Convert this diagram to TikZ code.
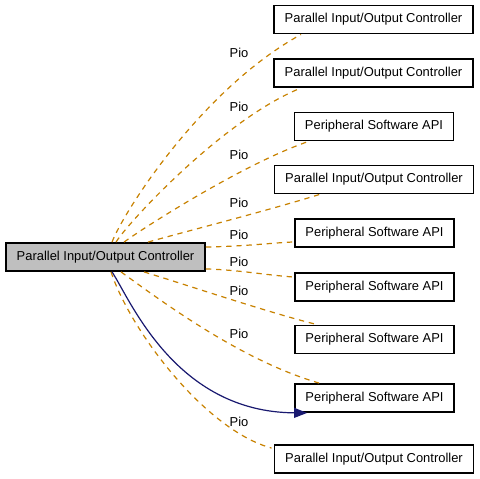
\documentclass[tikz,border=0pt]{standalone}
\usepackage{fontspec}
\setmainfont{Liberation Sans}
\usetikzlibrary{calc,arrows.meta}
\definecolor{pioorange}{RGB}{200,130,0}
\definecolor{navyedge}{RGB}{25,25,112}
\definecolor{mygray}{RGB}{191,191,191}
\begin{document}
\begin{tikzpicture}[x=0.75pt,y=-0.75pt,
  box/.style={draw=black,line width=1.4pt,fill=white,inner sep=0pt,minimum height=21pt,font=\fontsize{9.7}{11}\selectfont},
  widebox/.style={box,minimum width=149.25pt},
  narrowbox/.style={box,minimum width=119.25pt},
  mainbox/.style={box,fill=mygray,minimum width=149.25pt},
  usage/.style={draw=pioorange,line width=0.9pt,dash pattern=on 4pt off 3.6pt},
  lbl/.style={font=\fontsize{9.7}{11}\selectfont,inner sep=0pt},
  inherit/.style={draw=navyedge,line width=0.9pt,-{Triangle[length=9.75pt,width=7.5pt]}}
]
\useasboundingbox[fill=white] (0,0) rectangle (480,479);

\node[mainbox] (main) at (105.5,257) {Parallel Input/Output Controller};
\node[widebox] (n1) at (373.5,19.5) {Parallel Input/Output Controller};
\node[widebox] (n2) at (373.5,73) {Parallel Input/Output Controller};
\node[narrowbox] (n3) at (374,126.5) {Peripheral Software API};
\node[widebox] (n4) at (374,179.5) {Parallel Input/Output Controller};
\node[narrowbox] (n5) at (374.5,233) {Peripheral Software API};
\node[narrowbox] (n6) at (374.5,287) {Peripheral Software API};
\node[narrowbox] (n7) at (374.5,339.5) {Peripheral Software API};
\node[narrowbox] (n8) at (374.5,398) {Peripheral Software API};
\node[widebox] (n9) at (374,459) {Parallel Input/Output Controller};

% usage edges
\draw[usage] ($(main.north west)+(107,0)$) .. controls (122,215) and (200,90) .. ($(n1.south west)+(28,0)$);
\draw[usage] ($(main.north west)+(111,0)$) .. controls (126,225) and (222,120) .. ($(n2.south west)+(28,0)$);
\draw[usage] ($(main.north west)+(119,0)$) .. controls (143,228) and (245,163) .. ($(n3.south west)+(15,0)$);
\draw[usage] ($(main.north west)+(143,0)$) .. controls (180,233) and (270,210) .. ($(n4.south west)+(46,0)$);
\draw[usage] ($(main.north east)+(0,5)$) .. controls (250,246) and (270,243) .. ($(n5.south west)+(0,-6)$);
\draw[usage] ($(main.south east)+(0,-3)$) .. controls (240,270) and (265,275) .. ($(n6.north west)+(0,5)$);
\draw[usage] ($(main.south west)+(139,0)$) .. controls (190,286) and (270,313) .. ($(n7.north west)+(23,0)$);
\draw[usage] ($(main.south west)+(116,0)$) .. controls (160,300) and (240,360) .. ($(n8.north west)+(25,0)$);
\draw[usage] ($(main.south west)+(106,0)$) .. controls (130,330) and (205,430) .. ($(n9.north west)+(-2,4)$);

% collaboration edge
\draw[inherit] ($(main.south west)+(107,0)$) .. controls (130,299) and (175,412) .. ($(n8.south west)+(13,0)$);

% labels
\node[lbl] (l1) at (239,53) {Pio};
\node[lbl] (l2) at (239,107) {Pio};
\node[lbl] (l3) at (239,155) {Pio};
\node[lbl] (l4) at (239,203) {Pio};
\node[lbl] (l5) at (239,235) {Pio};
\node[lbl] (l6) at (239,262) {Pio};
\node[lbl] (l7) at (239,291) {Pio};
\node[lbl] (l8) at (239,334) {Pio};
\node[lbl] (l9) at (239,422) {Pio};
\end{tikzpicture}
\end{document}
